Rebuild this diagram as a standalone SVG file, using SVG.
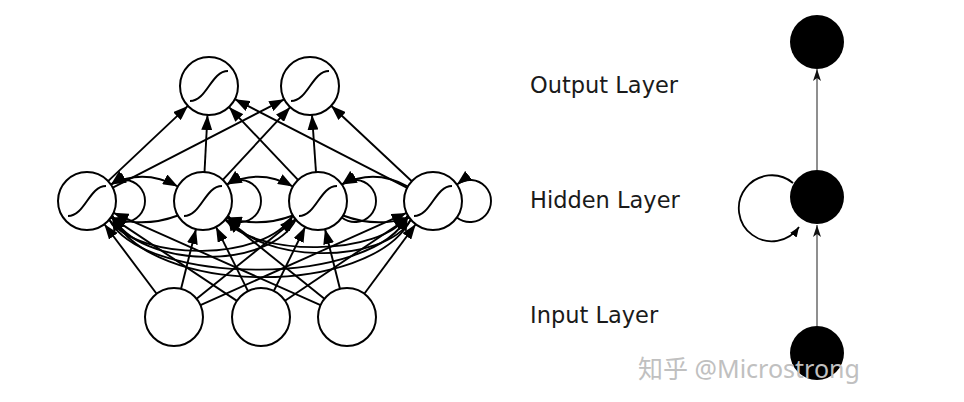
<svg xmlns="http://www.w3.org/2000/svg" width="964" height="402" viewBox="0 0 964 402">
<style>
.edge{fill:none;stroke:#000;stroke-width:1.9}
.node{fill:#fff;stroke:#000;stroke-width:2}
.sig{fill:none;stroke:#000;stroke-width:2}
.bnode{fill:#000}
.thin{fill:none;stroke:#333;stroke-width:1.1}
.lbl{font-family:"DejaVu Sans",sans-serif;font-size:22.5px;fill:#1a1a1a}
.wm{font-family:"Noto Sans","Noto Sans CJK SC",sans-serif;font-size:25px;fill:#c0c0c0}
</style>
<defs>
<marker id="ah" viewBox="0 0 15 11" refX="15" refY="5.5" markerWidth="15" markerHeight="11" markerUnits="userSpaceOnUse" orient="auto-start-reverse">
<path d="M0,0 L15,5.5 L0,11 z" fill="#000"/>
</marker>
<marker id="st" viewBox="0 0 12 8" refX="12" refY="4" markerWidth="12" markerHeight="8" markerUnits="userSpaceOnUse" orient="auto">
<path d="M0,0 L12,4 L0,8 L3,4 z" fill="#111"/>
</marker>
<marker id="sm" viewBox="0 0 10 8" refX="10" refY="4" markerWidth="10" markerHeight="8" markerUnits="userSpaceOnUse" orient="auto">
<path d="M0,0 L10,4 L0,8 z" fill="#000"/>
</marker>
</defs>

<g id="connectors">
<!-- hidden to output -->
<path class="edge" marker-end="url(#ah)" d="M108.1,181.1 L187.9,105.9"/>
<path class="edge" marker-end="url(#ah)" d="M112.8,187.7 L284.2,99.3"/>
<path class="edge" marker-end="url(#ah)" d="M204.5,172 L207.5,115"/>
<path class="edge" marker-end="url(#ah)" d="M222.8,179.8 L290.2,107.2"/>
<path class="edge" marker-end="url(#ah)" d="M298,179.9 L229,107.1"/>
<path class="edge" marker-end="url(#ah)" d="M316,172.1 L312,114.9"/>
<path class="edge" marker-end="url(#ah)" d="M407.2,187.8 L234.8,99.2"/>
<path class="edge" marker-end="url(#ah)" d="M411.8,181.2 L331.2,105.8"/>
<!-- input to hidden -->
<path class="edge" marker-end="url(#ah)" d="M156.6,293.8 L104.4,224.2"/>
<path class="edge" marker-end="url(#ah)" d="M181,288.9 L196,229.1"/>
<path class="edge" marker-end="url(#ah)" d="M196.6,298.8 L295.4,219.2"/>
<path class="edge" marker-end="url(#ah)" d="M200.5,305.1 L406.5,212.9"/>
<path class="edge" marker-end="url(#ah)" d="M236.9,300.9 L111.1,217.1"/>
<path class="edge" marker-end="url(#ah)" d="M248,291.1 L216,226.9"/>
<path class="edge" marker-end="url(#ah)" d="M273.8,291 L305.2,227"/>
<path class="edge" marker-end="url(#ah)" d="M285,300.8 L409,217.2"/>
<path class="edge" marker-end="url(#ah)" d="M320.5,305.2 L113.5,212.8"/>
<path class="edge" marker-end="url(#ah)" d="M324.4,298.8 L225.6,219.2"/>
<path class="edge" marker-end="url(#ah)" d="M340,288.9 L325,229.1"/>
<path class="edge" marker-end="url(#ah)" d="M364.3,293.7 L415.7,224.3"/>
<!-- long recurrent arcs -->
<path class="edge" marker-end="url(#ah)" d="M295.8,219.6 C270,270 140,270 112.1,215.5"/>
<path class="edge" marker-end="url(#ah)" d="M109.2,219.6 C140,262 265,262 292.9,215.5"/>
<path class="edge" marker-end="url(#ah)" d="M410.8,219.6 C370,297 150,297 112.1,215.5"/>
<path class="edge" marker-end="url(#ah)" d="M109.2,219.6 C145,287 375,287 407.9,215.5"/>
<path class="edge" marker-end="url(#ah)" d="M410.8,219.6 C385,265 255,265 228.1,215.5"/>
<path class="edge" marker-end="url(#ah)" d="M225.2,219.6 C255,257 380,257 407.9,215.5"/>
<!-- adjacent bottom arcs -->
<path class="edge" marker-end="url(#ah)" d="M177.9,215.5 Q145,228 110.8,217.6"/>
<path class="edge" marker-end="url(#ah)" d="M292.9,215.5 Q260,228 226.8,217.6"/>
<path class="edge" marker-end="url(#ah)" d="M343.1,215.5 Q376,228 409.2,217.6"/>
<!-- adjacent top arcs -->
<path class="edge" marker-start="url(#ah)" marker-end="url(#ah)" d="M110.8,184.4 Q144,168 177.9,186.5"/>
<path class="edge" marker-start="url(#ah)" marker-end="url(#ah)" d="M226.8,184.4 Q260,168 292.9,186.5"/>
<path class="edge" marker-end="url(#ah)" d="M407.9,186.5 Q375,168 341.8,184.4"/>
<!-- self loops -->
<path class="edge" marker-end="url(#ah)" d="M110.9,217.4 A21,21 0 1 0 110.9,184.6"/>
<path class="edge" marker-end="url(#ah)" d="M226.9,217.4 A21,21 0 1 0 226.9,184.6"/>
<path class="edge" marker-end="url(#ah)" d="M341.9,217.4 A21,21 0 1 0 341.9,184.6"/>
<path class="edge" marker-end="url(#ah)" d="M456.9,217.4 A21,21 0 1 0 456.9,184.6"/>
<!-- compact diagram -->
<path class="thin" marker-end="url(#st)" d="M817,326 L817,225"/>
<path class="thin" marker-end="url(#st)" d="M817,170 L817,69"/>
<path fill="none" stroke="#000" stroke-width="1.8" marker-end="url(#sm)" d="M793,183 A33,33 0 1 0 799,227"/>
</g>

<g id="out1"><circle class="node" cx="209" cy="86" r="29"/><path class="sig" d="M190,101 C207,101 211,71 228,71"/></g>
<g id="out2"><circle class="node" cx="310" cy="86" r="29"/><path class="sig" d="M291,101 C308,101 312,71 329,71"/></g>
<g id="hid1"><circle class="node" cx="87" cy="201" r="29"/><path class="sig" d="M68,216 C85,216 89,186 106,186"/></g>
<g id="hid2"><circle class="node" cx="203" cy="201" r="29"/><path class="sig" d="M184,216 C201,216 205,186 222,186"/></g>
<g id="hid3"><circle class="node" cx="318" cy="201" r="29"/><path class="sig" d="M299,216 C316,216 320,186 337,186"/></g>
<g id="hid4"><circle class="node" cx="433" cy="201" r="29"/><path class="sig" d="M414,216 C431,216 435,186 452,186"/></g>
<g id="in1"><circle class="node" cx="174" cy="317" r="29"/></g>
<g id="in2"><circle class="node" cx="261" cy="317" r="29"/></g>
<g id="in3"><circle class="node" cx="347" cy="317" r="29"/></g>

<g id="c-out"><circle class="bnode" cx="817" cy="42" r="27"/></g>
<g id="c-hid"><circle class="bnode" cx="817" cy="197" r="27"/></g>
<g id="c-in"><circle class="bnode" cx="817" cy="353" r="27"/></g>

<g id="labels">
<text class="lbl" x="530" y="93">Output Layer</text>
<text class="lbl" x="530" y="208">Hidden Layer</text>
<text class="lbl" x="530" y="323">Input Layer</text>
</g>
<text class="wm" x="638" y="378">知乎 @Microstrong</text>
</svg>
